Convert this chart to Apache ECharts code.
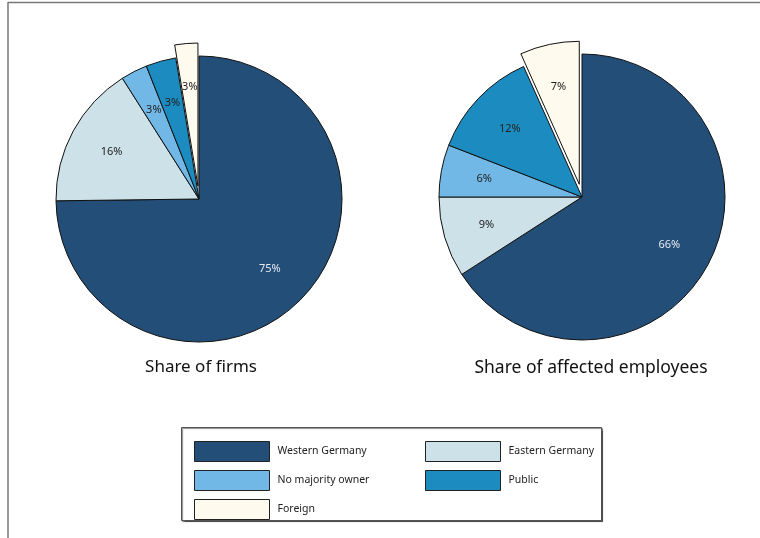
<!DOCTYPE html>
<html>
<head>
<meta charset="utf-8">
<script src="https://cdn.jsdelivr.net/npm/echarts@6/dist/echarts.min.js"></script>
<style>
html,body{margin:0;padding:0;background:#fff;}
#chart{width:760px;height:538px;}
</style>
</head>
<body>
<div id="chart"></div>
<script>
// ---- data ----
var categories = ['Western Germany', 'Eastern Germany', 'No majority owner', 'Public', 'Foreign'];
var firmShares = [74.8, 16.2, 3.0, 3.4, 2.6];
var firmLabels = ['75%', '16%', '3%', '3%', '3%'];
var employeeShares = [65.9, 9.1, 5.9, 12.4, 6.7];
var employeeLabels = ['66%', '9%', '6%', '12%', '7%'];
var pieTitles = ['Share of firms', 'Share of affected employees'];
var explodedCategory = 'Foreign';

var colors = ['#224e78', '#cde1e8', '#72b8e6', '#1c8cc0', '#fffaee'];
var labelColors = ['#e6e8ef', '#222', '#222', '#222', '#222'];
var FONT = '"Noto Sans", "Open Sans", sans-serif';

function mainData(vals) {
  return categories.map(function (c, i) {
    return { name: c, value: vals[i], selected: c === explodedCategory,
      itemStyle: { color: colors[i] } };
  });
}
function labelData(vals, labels) {
  return categories.map(function (c, i) {
    return { name: c, value: vals[i], selected: c === explodedCategory,
      itemStyle: { color: 'rgba(0,0,0,0)', borderWidth: 0 },
      label: { formatter: labels[i], color: labelColors[i] } };
  });
}
function pieMain(center, vals) {
  return {
    type: 'pie', center: center, radius: 143, startAngle: 90, clockwise: true,
    selectedMode: 'single', selectedOffset: 13, animation: false, silent: true,
    label: { show: false }, labelLine: { show: false },
    itemStyle: { borderColor: '#111', borderWidth: 1 },
    emphasis: { disabled: true },
    data: mainData(vals)
  };
}
function pieLabels(center, vals, labels) {
  return {
    type: 'pie', center: center, radius: [50, 143], startAngle: 90, clockwise: true,
    selectedMode: 'single', selectedOffset: 13, animation: false, silent: true,
    label: { show: true, position: 'inside', fontSize: 11, fontFamily: FONT },
    labelLine: { show: false },
    emphasis: { disabled: true },
    data: labelData(vals, labels)
  };
}

var chart = echarts.init(document.getElementById('chart'), null, { renderer: 'canvas' });
var legendCommon = {
  orient: 'vertical', icon: 'rect', itemWidth: 75, itemHeight: 20, itemGap: 8,
  selectedMode: false,
  itemStyle: { borderColor: '#222', borderWidth: 1 },
  textStyle: { fontSize: 10.5, color: '#222', fontFamily: FONT, padding: [0, 0, 0, 3] }
};
chart.setOption({
  backgroundColor: '#fff',
  title: [
    { text: pieTitles[0], left: 196, top: 354, textAlign: 'center',
      textStyle: { fontSize: 17, fontWeight: 'normal', color: '#111', fontFamily: FONT } },
    { text: pieTitles[1], left: 586, top: 354, textAlign: 'center',
      textStyle: { fontSize: 17.5, fontWeight: 'normal', color: '#111', fontFamily: FONT } }
  ],
  legend: [
    Object.assign({}, legendCommon, { left: 189, top: 436,
      data: [categories[0], categories[2], categories[4]] }),
    Object.assign({}, legendCommon, { left: 420, top: 436,
      data: [categories[1], categories[3]] })
  ],
  graphic: [
    { type: 'line', shape: { x1: 8, y1: 2.5, x2: 760, y2: 2.5 }, style: { stroke: '#777', lineWidth: 1.5 } },
    { type: 'line', shape: { x1: 8, y1: 2, x2: 8, y2: 538 }, style: { stroke: '#777', lineWidth: 1.5 } },
    { type: 'rect', z: -1, shape: { x: 181.5, y: 427.5, width: 420, height: 93 },
      style: { fill: '#fff', stroke: '#555', lineWidth: 1,
        shadowColor: 'rgba(0,0,0,0.5)', shadowOffsetX: 1, shadowOffsetY: 1, shadowBlur: 1 } }
  ],
  series: [
    pieMain([199, 199], firmShares),
    pieMain([582, 197], employeeShares),
    pieLabels([199, 199], firmShares, firmLabels),
    pieLabels([582, 197], employeeShares, employeeLabels)
  ]
});
</script>
</body>
</html>
